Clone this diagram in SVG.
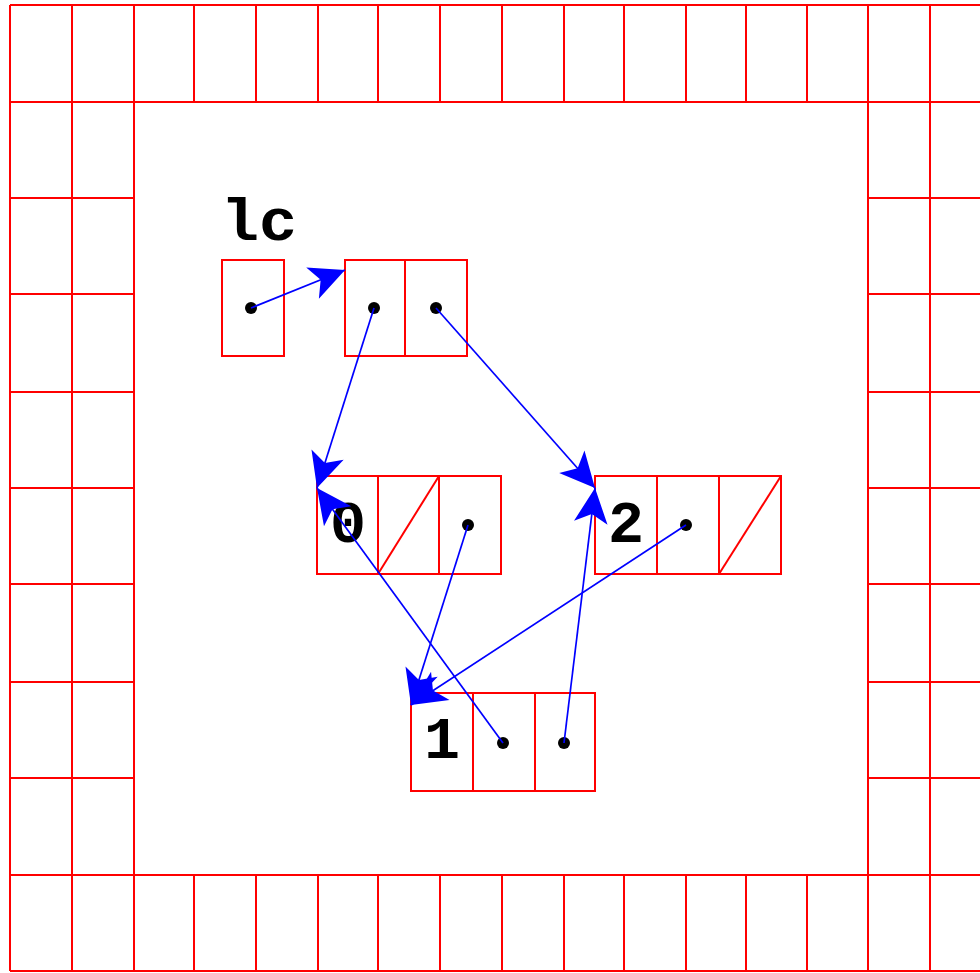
<svg xmlns="http://www.w3.org/2000/svg" width="980" height="973" viewBox="0 0 980 973">
<style>
.g{stroke:#ff0000;stroke-width:2;fill:none}
.b{stroke:#ff0000;stroke-width:2;fill:none}
.a{stroke:#0000ff;stroke-width:1.7;fill:none;marker-end:url(#ah)}
.d{fill:#000}
.t{font-family:"Liberation Mono","Courier New",monospace;font-weight:bold;font-size:60px;fill:#000}
</style>
<defs>
<marker id="ah" markerUnits="userSpaceOnUse" markerWidth="40" markerHeight="40" viewBox="-30 -15 32 30" refX="0" refY="0" orient="auto">
<path d="M0,0 L-28,-13.5 L-21,0 L-28,13.5 Z" fill="#0000ff"/>
</marker>
</defs>
<rect width="980" height="973" fill="#fff"/>
<g id="grid" class="g">
<path d="M10,5H980M10,102H980M10,875H980M10,971H980"/>
<path d="M10,5V971M72,5V971M134,5V971M868,5V971M930,5V971"/>
<path d="M194,5V102M256,5V102M318,5V102M378,5V102M440,5V102M502,5V102M564,5V102M624,5V102M686,5V102M746,5V102M807,5V102"/>
<path d="M194,875V971M256,875V971M318,875V971M378,875V971M440,875V971M502,875V971M564,875V971M624,875V971M686,875V971M746,875V971M807,875V971"/>
<path d="M10,198H134M10,294H134M10,392H134M10,488H134M10,584H134M10,682H134M10,778H134"/>
<path d="M868,198H980M868,294H980M868,392H980M868,488H980M868,584H980M868,682H980M868,778H980"/>
</g>
<g id="lc">
<text class="t" x="221" y="240" textLength="76" lengthAdjust="spacingAndGlyphs">lc</text>
<rect class="b" x="222" y="260" width="62" height="96"/>
<circle class="d" cx="251" cy="308" r="6"/>
</g>
<g id="pair">
<rect class="b" x="345" y="260" width="60" height="96"/>
<rect class="b" x="405" y="260" width="62" height="96"/>
<circle class="d" cx="374" cy="308" r="6"/>
<circle class="d" cx="436" cy="308" r="6"/>
</g>
<g id="node0">
<rect class="b" x="317" y="476" width="61" height="98"/>
<rect class="b" x="378" y="476" width="61" height="98"/>
<rect class="b" x="439" y="476" width="62" height="98"/>
<path class="b" d="M378,574L439,476"/>
<text class="t" x="348" y="542" text-anchor="middle">0</text>
<circle class="d" cx="468" cy="525" r="6"/>
</g>
<g id="node2">
<rect class="b" x="595" y="476" width="62" height="98"/>
<rect class="b" x="657" y="476" width="62" height="98"/>
<rect class="b" x="719" y="476" width="62" height="98"/>
<path class="b" d="M719,574L781,476"/>
<text class="t" x="626" y="542" text-anchor="middle">2</text>
<circle class="d" cx="686" cy="525" r="6"/>
</g>
<g id="node1">
<rect class="b" x="411" y="693" width="62" height="98"/>
<rect class="b" x="473" y="693" width="62" height="98"/>
<rect class="b" x="535" y="693" width="60" height="98"/>
<text class="t" x="442" y="758" text-anchor="middle">1</text>
<circle class="d" cx="503" cy="743" r="6"/>
<circle class="d" cx="564" cy="743" r="6"/>
</g>
<g id="connectors">
<path class="a" d="M251,308L345,270"/>
<path class="a" d="M374,308L317,488"/>
<path class="a" d="M436,308L595,488"/>
<path class="a" d="M468,525L411,705"/>
<path class="a" d="M686,525L411,705"/>
<path class="a" d="M503,743L317,488"/>
<path class="a" d="M564,743L595,488"/>
</g>
</svg>
